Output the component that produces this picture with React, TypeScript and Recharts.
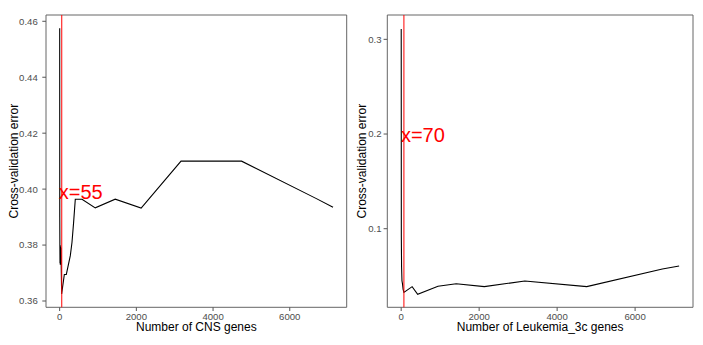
import { LineChart, Line, XAxis, YAxis, ReferenceLine, ReferenceArea, ReferenceDot } from "recharts";

// CNS panel
const cnsGenes = [1, 3, 6, 9, 13, 17, 22, 27, 33, 40, 52, 122, 174, 278, 322, 364, 408, 583, 929, 1449, 2125, 3165, 4744, 6695, 7129];
const cnsError = [
  0.4575, 0.39, 0.3795, 0.3735, 0.38, 0.373, 0.3795, 0.3735, 0.379, 0.373, 0.3625, 0.3695, 0.3695, 0.3762, 0.381,
  0.3881, 0.3964, 0.3964, 0.3933, 0.3964, 0.3932, 0.41, 0.41, 0.3966, 0.3935,
];

// Leukemia_3c panel
const leukGenes = [1, 4, 10, 20, 33, 50, 70, 281, 423, 944, 1411, 2133, 3171, 4760, 6699, 7129];
const leukError = [
  0.311, 0.092, 0.06, 0.045, 0.042, 0.036, 0.0328, 0.0388, 0.0307, 0.0392, 0.0419, 0.0388, 0.0448, 0.0388, 0.0574,
  0.0606,
];

const xTicks = [0, 2000, 4000, 6000];
const xDomain = [-356, 7485];
const cnsTicks = [0.36, 0.38, 0.4, 0.42, 0.44, 0.46];
const cnsDomain = [0.35775, 0.46225];
const leukTicks = [0.1, 0.2, 0.3];
const leukDomain = [0.017, 0.3257];

// chosen number of genes + where the red label sits
const cnsBest = 55;
const cnsLabelY = 0.3988;
const leukBest = 70;
const leukLabelY = 0.1985;

const FONT = "'Liberation Sans', Arial, Helvetica, sans-serif";
const tickStyle = { fill: "#4d4d4d", fontSize: 9.6, fontFamily: FONT };

interface PanelProps {
  genes: number[];
  errors: number[];
  yTicks: number[];
  yDomain: number[];
  yDigits: number;
  best: number;
  labelY: number;
  xTitle: string;
  width: number;
  yAxisWidth: number;
  yTitleX: number;
  tickMargin: number;
  marginRight: number;
}

function Panel({
  genes,
  errors,
  yTicks,
  yDomain,
  yDigits,
  best,
  labelY,
  xTitle,
  width,
  yAxisWidth,
  yTitleX,
  tickMargin,
  marginRight,
}: PanelProps) {
  const data = genes.map((g, i) => ({ genes: g, error: errors[i] }));
  return (
    <LineChart width={width} height={345} data={data} margin={{ top: 15, right: marginRight, bottom: 0, left: 0 }}>
      <XAxis
        dataKey="genes"
        type="number"
        domain={xDomain}
        ticks={xTicks}
        allowDataOverflow
        height={37.7}
        axisLine={false}
        tickSize={3.7}
        tickMargin={2.3}
        tickLine={{ stroke: "#555" }}
        tick={tickStyle}
        label={(p: any) => (
          <text
            x={p.viewBox.x + p.viewBox.width / 2}
            y={p.viewBox.y + 24}
            textAnchor="middle"
            fontSize={12}
            fontFamily={FONT}
            fill="#000"
          >
            {xTitle}
          </text>
        )}
      />
      <YAxis
        type="number"
        domain={yDomain}
        ticks={yTicks}
        allowDataOverflow
        width={yAxisWidth}
        axisLine={false}
        tickSize={3.7}
        tickMargin={tickMargin}
        tickLine={{ stroke: "#555" }}
        tick={tickStyle}
        tickFormatter={(v: number) => v.toFixed(yDigits)}
        label={(p: any) => {
          const cx = p.viewBox.x + yTitleX;
          const cy = p.viewBox.y + p.viewBox.height / 2;
          return (
            <text
              x={cx}
              y={cy}
              transform={`rotate(-90, ${cx}, ${cy})`}
              textAnchor="middle"
              dominantBaseline="central"
              fontSize={12}
              fontFamily={FONT}
              fill="#000"
            >
              Cross-validation error
            </text>
          );
        }}
      />
      <ReferenceArea
        x1={xDomain[0]}
        x2={xDomain[1]}
        y1={yDomain[0]}
        y2={yDomain[1]}
        fill="none"
        stroke="#666"
        strokeWidth={1}
        ifOverflow="visible"
      />
      <Line
        dataKey="error"
        type="linear"
        stroke="#000"
        strokeWidth={1.1}
        dot={false}
        activeDot={false}
        isAnimationActive={false}
      />
      <ReferenceLine x={best} stroke="#ff0000" strokeWidth={1} />
      <ReferenceDot
        x={best}
        y={labelY}
        r={0}
        fill="none"
        stroke="none"
        label={(p: any) => (
          <text
            x={p.viewBox.x - 3}
            y={p.viewBox.y}
            dominantBaseline="central"
            textAnchor="start"
            fontSize={20}
            fontFamily={FONT}
            fill="#ff0000"
          >
            {`x=${best}`}
          </text>
        )}
      />
    </LineChart>
  );
}

export default function App() {
  return (
    <div
      style={{
        position: "absolute",
        left: 0,
        top: 0,
        width: 703,
        height: 345,
        display: "flex",
        background: "#fff",
      }}
    >
      <Panel
        genes={cnsGenes}
        errors={cnsError}
        yTicks={cnsTicks}
        yDomain={cnsDomain}
        yDigits={2}
        best={cnsBest}
        labelY={cnsLabelY}
        xTitle="Number of CNS genes"
        width={352}
        yAxisWidth={46}
        yTitleX={14.5}
        tickMargin={4.5}
        marginRight={5.3}
      />
      <Panel
        genes={leukGenes}
        errors={leukError}
        yTicks={leukTicks}
        yDomain={leukDomain}
        yDigits={1}
        best={leukBest}
        labelY={leukLabelY}
        xTitle="Number of Leukemia_3c genes"
        width={351}
        yAxisWidth={35.3}
        yTitleX={10}
        tickMargin={2}
        marginRight={10}
      />
    </div>
  );
}
